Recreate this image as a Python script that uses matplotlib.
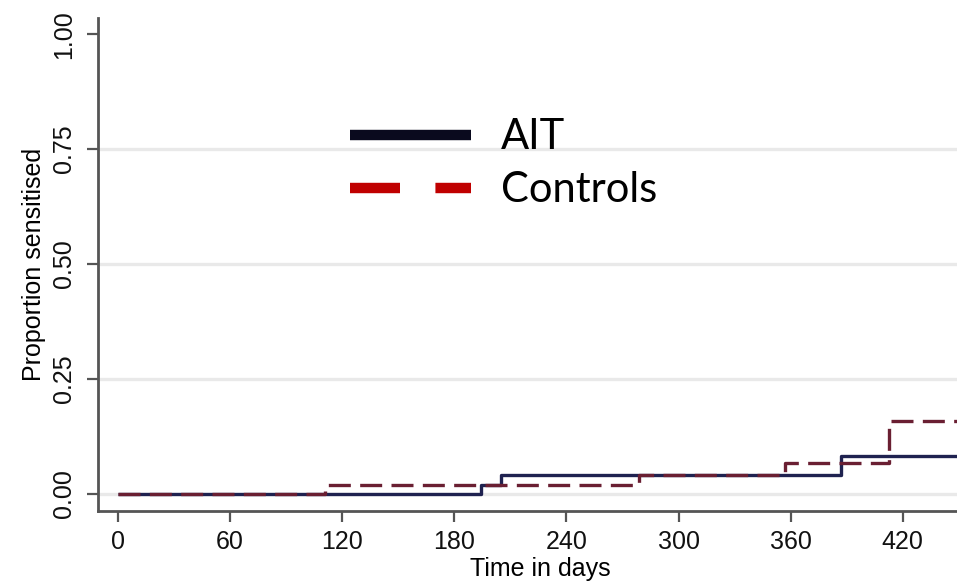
import matplotlib
matplotlib.use("Agg")
import matplotlib.pyplot as plt
from matplotlib.lines import Line2D

# Kaplan-Meier style step data (time in days, cumulative proportion sensitised)
ait_days = [0, 194, 205, 387, 449]
ait_prop = [0.0, 0.019, 0.041, 0.082, 0.082]

ctrl_days = [0, 111, 279, 357, 412.5, 449]
ctrl_prop = [0.0, 0.019, 0.041, 0.067, 0.159, 0.159]

x_ticks = [0, 60, 120, 180, 240, 300, 360, 420]
y_ticks = [0.0, 0.25, 0.50, 0.75, 1.00]
y_ticklabels = ["0.00", "0.25", "0.50", "0.75", "1.00"]
legend_labels = ["AIT", "Controls"]

plt.rcParams["font.family"] = ["Liberation Sans", "DejaVu Sans"]

fig = plt.figure(figsize=(9.57, 5.82), dpi=100)
ax = fig.add_axes([0.1024, 0.122, 0.8976, 0.847])

# light horizontal grid
for yv in y_ticks[:-1]:
    ax.axhline(yv, color="#e9e9e9", lw=2.4, zorder=0)

ax.step(ait_days, ait_prop, where="post", color="#1f2250", lw=2.4,
        solid_capstyle="butt", zorder=3)
ax.step(ctrl_days, ctrl_prop, where="post", color="#6a1f32", lw=2.4,
        dashes=(6.6, 2.8), zorder=4)

ax.set_xlim(-10.7, 449)
ax.set_ylim(-0.037, 1.035)

ax.set_xticks(x_ticks)
ax.set_xticklabels([str(v) for v in x_ticks], fontsize=18)
ax.set_yticks(y_ticks)
ax.set_yticklabels(y_ticklabels, fontsize=18, rotation=90, va="center")

for side in ("top", "right"):
    ax.spines[side].set_visible(False)
for side in ("left", "bottom"):
    ax.spines[side].set_color("#555555")
    ax.spines[side].set_linewidth(2.0)
ax.tick_params(axis="both", direction="out", length=8, width=1.6,
               color="#555555", labelcolor="#111111")
ax.tick_params(axis="x", pad=6)
ax.tick_params(axis="y", pad=8)

ax.set_ylabel("Proportion sensitised", fontsize=18)
ax.yaxis.set_label_coords(-0.06, 0.5)
ax.set_xlabel("Time in days", fontsize=18)
ax.xaxis.set_label_coords(0.515, -0.094)

handles = [
    Line2D([0], [0], color="#0a0a1e", lw=7.5, solid_capstyle="butt"),
    Line2D([0], [0], color="#c00000", lw=7.5, dashes=(4.8, 3.4),
           dash_capstyle="butt"),
]
leg = ax.legend(handles, legend_labels, loc="upper left",
                bbox_to_anchor=(0.293, 0.797), frameon=False,
                borderpad=0, borderaxespad=0,
                prop={"family": ["Lato", "DejaVu Sans"], "size": 30},
                handlelength=2.9, handletextpad=0.72, labelspacing=0.36)

fig.savefig("out.png", dpi=100)
